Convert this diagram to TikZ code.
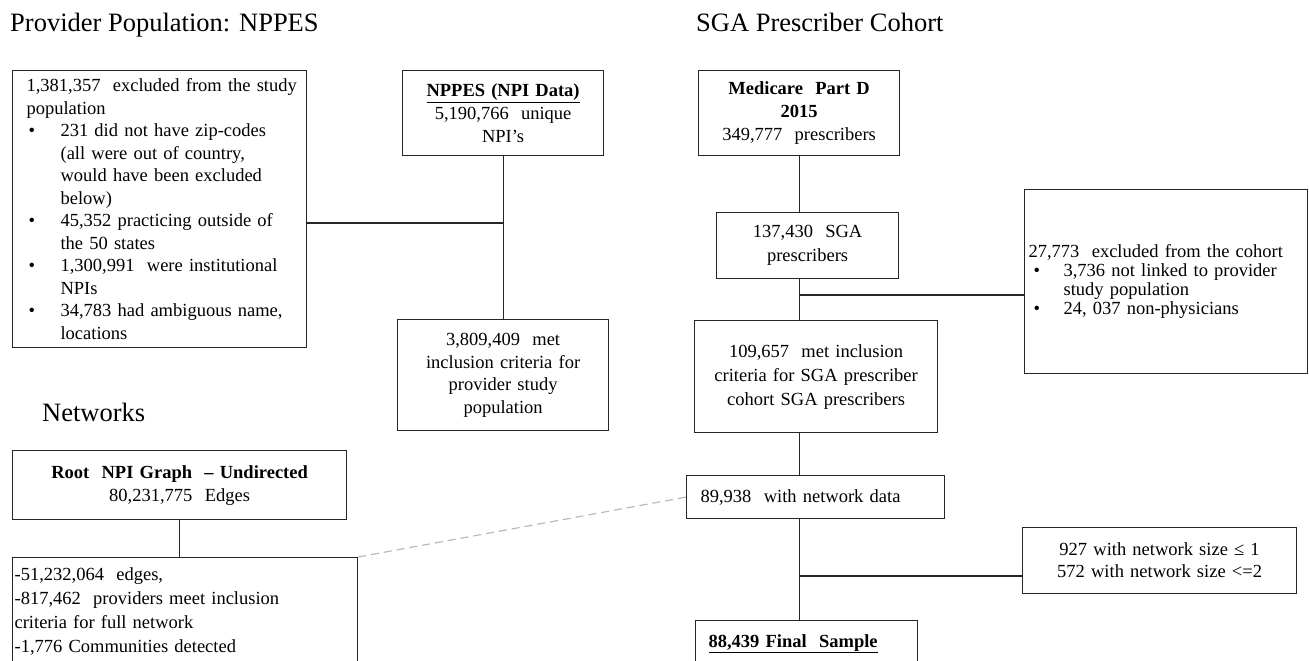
\documentclass[tikz,border=0pt]{standalone}
\usepackage{fontspec}
\setmainfont{Liberation Serif}
\newcommand{\bulitem}[1]{\hspace*{2pt}\makebox[32pt][l]{•}\mbox{#1}}
\newcommand{\bulcont}[1]{\hspace*{34pt}\mbox{#1}}
\newcommand{\bulR}[1]{\hspace*{5pt}\makebox[30pt][l]{•}\mbox{#1}}
\newcommand{\contR}[1]{\hspace*{35pt}\mbox{#1}}
\begin{document}
\begin{tikzpicture}[x=1pt,y=-1pt,
  box/.style={draw=black!85, line width=1.2pt, inner ysep=0pt, anchor=north west},
  body/.style={font=\fontsize{18.5}{#1}\selectfont},
  link/.style={draw=black!85, line width=1.2pt},
  title/.style={font=\fontsize{26.5}{30}\selectfont, anchor=base west, inner sep=0pt}]
\useasboundingbox (0,0) rectangle (1309,661);
\clip (0,0) rectangle (1309,661);

% titles
\node[title] (t1) at (10,32) {Provider Population: NPPES};
\node[title] (t2) at (696,32) {SGA Prescriber Cohort};
\node[title] (t3) at (42,421) {Networks};

% provider population
\node[box, body=22.5, inner xsep=14pt, text width=266pt, minimum height=277pt, align=left] (exclL) at (12,70) {%
\mbox{1,381,357\ \ excluded from\ the study}\\
\mbox{population}\\
\bulitem{231\ did not have zip-codes}\\
\bulcont{(all\ were\ out of country,}\\
\bulcont{would have been excluded}\\
\bulcont{below)}\\
\bulitem{45,352\ practicing outside of}\\
\bulcont{the 50 states}\\
\bulitem{1,300,991\ \ were institutional}\\
\bulcont{NPIs}\\
\bulitem{34,783\ had ambiguous name,}\\
\bulcont{locations}};

\node[box, body=23, inner xsep=4pt, text width=193pt, minimum height=85pt, align=center] (nppes) at (402,70) {%
\textbf{\underline{NPPES (NPI Data)}}\\
\mbox{5,190,766\ \ unique}\\
NPI’s};

\node[box, body=22.5, inner xsep=4pt, text width=203pt, minimum height=111pt, align=center] (incl) at (397,319) {%
\mbox{3,809,409\ \ met}\\
\mbox{inclusion criteria for}\\
\mbox{provider study}\\
population};

% SGA cohort
\node[box, body=23, inner xsep=4pt, text width=193pt, minimum height=85pt, align=center] (medicare) at (698,70) {%
\textbf{Medicare\ \ Part D}\\
\textbf{2015}\\
\mbox{349,777\ \ prescribers}};

\node[box, body=24, inner xsep=4pt, text width=174pt, minimum height=66pt, align=center] (sga) at (716,212) {%
\mbox{137,430\ \ SGA}\\
prescribers};

\node[box, body=19, inner xsep=4pt, text width=275pt, minimum height=184pt, align=left] (exclR) at (1024,189) {%
\mbox{27,773\ \ excluded from\ the cohort}\\
\bulR{3,736\ not linked to provider}\\
\contR{study population}\\
\bulR{24, 037 non-physicians}};

\node[box, body=24, inner xsep=4pt, text width=235pt, minimum height=112pt, align=center] (cohort) at (694,320) {%
\mbox{109,657\ \ met inclusion}\\
\mbox{criteria for SGA prescriber}\\
\mbox{cohort SGA prescribers}};

\node[box, body=23, inner xsep=14pt, text width=230pt, minimum height=43pt, align=left] (netdata) at (686,475) {%
\mbox{89,938\ \ with network data}};

\node[box, body=22, inner xsep=4pt, text width=266pt, minimum height=66pt, align=center] (small) at (1022,527) {%
\mbox{927 with network size ≤ 1}\\
\mbox{572 with network size <=2}};

\node[box, body=23, inner xsep=13pt, text width=196pt, minimum height=46pt, align=left] (final) at (695,620) {%
\textbf{\underline{88,439 Final\ \ Sample}}};

% networks
\node[box, body=23, inner xsep=4pt, text width=326pt, minimum height=69pt, align=center] (root) at (12,450) {%
\mbox{\textbf{Root\ \ NPI Graph\ \ – Undirected}}\\
\mbox{80,231,775\ \ Edges}};

\node[box, body=24, inner xsep=2pt, text width=341pt, minimum height=107pt, align=left] (netw) at (12,557) {%
\mbox{-51,232,064\ \ edges,}\\
\mbox{-817,462\ \ providers meet inclusion}\\
\mbox{criteria for full network}\\
\mbox{-1,776 Communities detected}};

% connectors
\coordinate (y223) at (0,223);
\coordinate (y295) at (0,295);
\coordinate (y576) at (0,576);
\coordinate (j1) at (nppes.south |- y223);
\coordinate (j2) at (medicare.south |- y295);
\coordinate (j3) at (medicare.south |- y576);
\draw[link] (nppes.south) -- (nppes.south |- incl.north);
\draw[link] (exclL.east |- j1) -- (j1);
\draw[link] (medicare.south) -- (medicare.south |- sga.north);
\draw[link] (medicare.south |- sga.south) -- (medicare.south |- cohort.north);
\draw[link] (j2) -- (exclR.west |- j2);
\draw[link] (medicare.south |- cohort.south) -- (medicare.south |- netdata.north);
\draw[link] (medicare.south |- netdata.south) -- (medicare.south |- final.north);
\draw[link] (j3) -- (small.west |- j3);
\draw[link] (root.south) -- (root.south |- netw.north);
\draw[draw=gray!55, line width=1.2pt, dash pattern=on 8pt off 5pt] (netw.north east) -- (netdata.west);
\end{tikzpicture}
\end{document}
